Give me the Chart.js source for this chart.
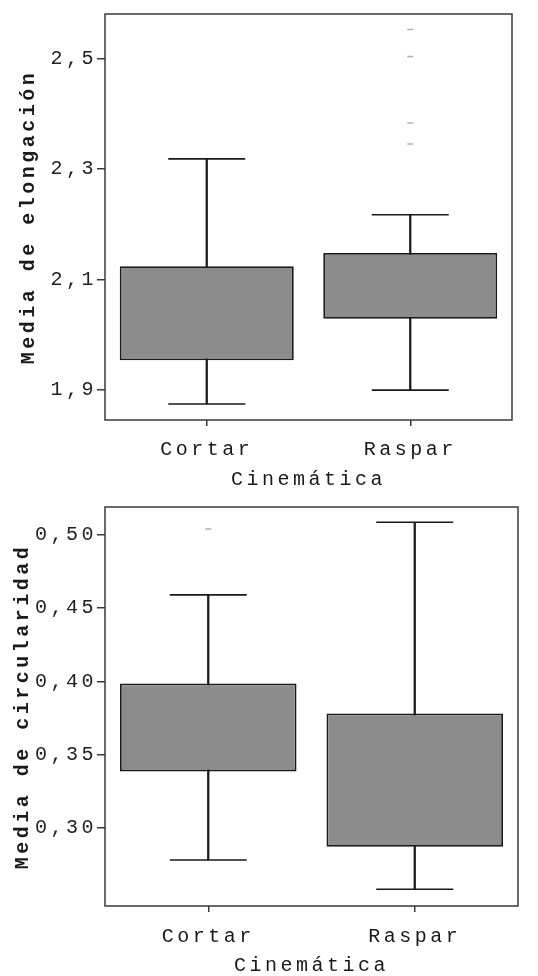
<!DOCTYPE html>
<html>
<head>
<meta charset="utf-8">
<script src="https://cdn.jsdelivr.net/npm/chart.js@4/dist/chart.umd.min.js"></script>
<style>
  html, body { margin: 0; padding: 0; background: #fff; }
  #wrap { position: relative; width: 538px; height: 976px; }
  .pane { position: absolute; left: 0; width: 538px; }
  #paneTop { top: 0; height: 495px; }
  #paneBottom { top: 495px; height: 481px; }
</style>
</head>
<body>
<div id="wrap">
  <div class="pane" id="paneTop"><canvas id="chartElong"></canvas></div>
  <div class="pane" id="paneBottom"><canvas id="chartCirc"></canvas></div>
</div>
<script>
// Groups on the x axis
const categories = ['Cortar', 'Raspar'];

// Media de elongación: whisker ends and quartile box per group
const elongMin = [1.875, 1.900];
const elongQ1  = [1.954, 2.029];
const elongQ3  = [2.124, 2.148];
const elongMax = [2.318, 2.217];
const elongOutliers = [
  { x: 'Raspar', y: 2.552 },
  { x: 'Raspar', y: 2.503 },
  { x: 'Raspar', y: 2.383 },
  { x: 'Raspar', y: 2.345 }
];
const elongTicks = [1.9, 2.1, 2.3, 2.5];
const elongTickLabels = ['1,9', '2,1', '2,3', '2,5'];

// Media de circularidad: whisker ends and quartile box per group
const circMin = [0.278, 0.258];
const circQ1  = [0.3385, 0.287];
const circQ3  = [0.3985, 0.378];
const circMax = [0.459, 0.5086];
const circOutliers = [
  { x: 'Cortar', y: 0.504 }
];
const circTicks = [0.30, 0.35, 0.40, 0.45, 0.50];
const circTickLabels = ['0,30', '0,35', '0,40', '0,45', '0,50'];

const FONT = 'Liberation Mono, Courier New, monospace';
const INK = '#1a1a1a';
const BOX_FILL = '#8c8c8c';

// Wide character spacing for the typewriter-style lettering
const spacing = {
  id: 'spacing',
  beforeLayout(c) { c.ctx.letterSpacing = '3.5px'; },
  beforeDraw(c) { c.ctx.letterSpacing = '3.5px'; }
};

// Closed frame around the plotting area
const frame = {
  id: 'frame',
  beforeDatasetsDraw(c) {
    const { ctx, chartArea: a } = c;
    ctx.save();
    ctx.strokeStyle = '#3a3a3a';
    ctx.lineWidth = 1.5;
    ctx.strokeRect(a.left, a.top, a.right - a.left, a.bottom - a.top);
    ctx.restore();
  }
};

function boxDatasets(mins, q1s, q3s, maxs, outliers) {
  return [
    {
      // caps at the whisker ends
      type: 'line', data: maxs, showLine: false, order: 0,
      pointStyle: 'line', pointRadius: 38.5, pointHoverRadius: 38.5,
      borderColor: INK, pointBorderWidth: 1.6, borderWidth: 1.6
    },
    {
      type: 'line', data: mins, showLine: false, order: 0,
      pointStyle: 'line', pointRadius: 38.5, pointHoverRadius: 38.5,
      borderColor: INK, pointBorderWidth: 1.6, borderWidth: 1.6
    },
    {
      // interquartile box
      type: 'bar', order: 1, grouped: false,
      data: q1s.map((q, i) => [q, q3s[i]]),
      backgroundColor: BOX_FILL, borderColor: INK, borderWidth: 1.8,
      borderSkipped: false, barPercentage: 0.855, categoryPercentage: 1
    },
    {
      // whisker stem from min to max
      type: 'bar', order: 2, grouped: false,
      data: mins.map((m, i) => [m, maxs[i]]),
      backgroundColor: INK, borderWidth: 0, barThickness: 1.6
    },
    {
      // isolated values
      type: 'line', data: outliers, showLine: false, order: 0,
      pointStyle: 'line', pointRadius: 3, borderColor: '#b0b0b0',
      pointBorderWidth: 1.5
    }
  ];
}

function makeChart(id, cfg) {
  return new Chart(document.getElementById(id), {
    type: 'bar',
    data: {
      labels: categories,
      datasets: boxDatasets(cfg.mins, cfg.q1s, cfg.q3s, cfg.maxs, cfg.outliers)
    },
    plugins: [spacing, frame],
    options: {
      responsive: true,
      maintainAspectRatio: false,
      animation: false,
      events: [],
      layout: {
        autoPadding: false,
        padding: { top: cfg.padTop, right: cfg.padRight, left: 0, bottom: 0 }
      },
      plugins: { legend: { display: false }, tooltip: { enabled: false } },
      scales: {
        x: {
          offset: true,
          afterFit: s => { s.height = cfg.xHeight; },
          grid: { drawOnChartArea: false, offset: false, tickLength: 6, color: '#3a3a3a', lineWidth: 1.5 },
          border: { display: false },
          ticks: { padding: cfg.xPad, color: INK, maxRotation: 0, font: { family: FONT, size: 20 } },
          title: {
            display: true, text: 'Cinemática', color: INK,
            padding: { top: 0, bottom: cfg.xTitlePad },
            font: { family: FONT, size: 20, lineHeight: 1 }
          }
        },
        y: {
          min: cfg.min, max: cfg.max,
          afterBuildTicks: s => { s.ticks = cfg.ticks.map(v => ({ value: v })); },
          afterFit: s => { s.width = 105; },
          grid: { drawOnChartArea: false, tickLength: 8, color: '#3a3a3a', lineWidth: 1.5 },
          border: { display: false },
          ticks: {
            padding: 0, color: '#222', font: { family: FONT, size: 20 },
            callback: v => cfg.labels[cfg.ticks.findIndex(t => Math.abs(t - v) < 1e-9)]
          },
          title: {
            display: true, text: cfg.yTitle, color: INK,
            padding: { top: cfg.yTitlePad, bottom: 0 },
            font: { family: FONT, size: 20, weight: 'bold', lineHeight: 1 }
          }
        }
      }
    }
  });
}

makeChart('chartElong', {
  mins: elongMin, q1s: elongQ1, q3s: elongQ3, maxs: elongMax, outliers: elongOutliers,
  ticks: elongTicks, labels: elongTickLabels, min: 1.846, max: 2.58,
  yTitle: 'Media de elongación',
  padTop: 14, padRight: 26, xHeight: 75, xPad: 12, xTitlePad: 5, yTitlePad: 19
});

makeChart('chartCirc', {
  mins: circMin, q1s: circQ1, q3s: circQ3, maxs: circMax, outliers: circOutliers,
  ticks: circTicks, labels: circTickLabels, min: 0.2466, max: 0.519,
  yTitle: 'Media de circularidad',
  padTop: 8, padRight: 20, xHeight: 70, xPad: 13, xTitlePad: 0, yTitlePad: 13
});
</script>
</body>
</html>
